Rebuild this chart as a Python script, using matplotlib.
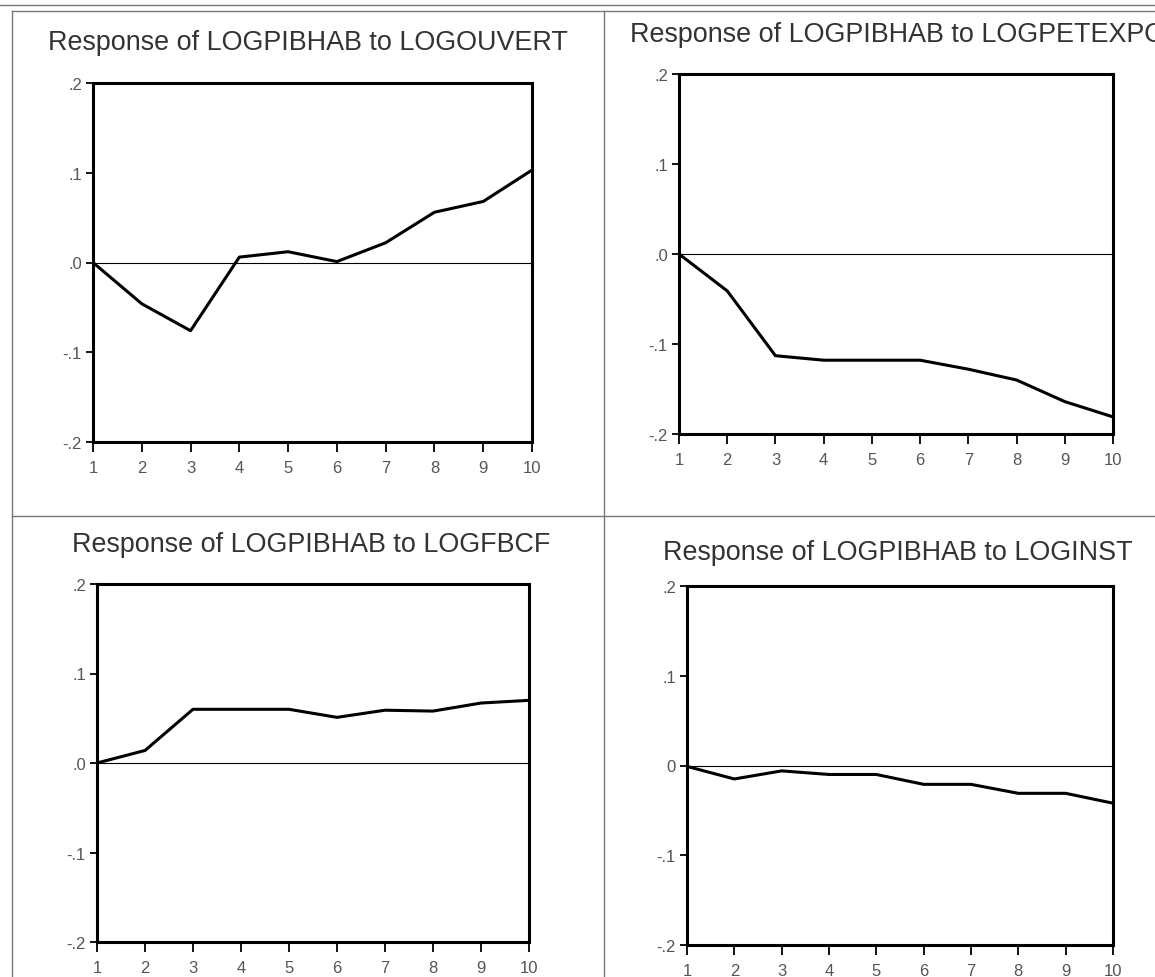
import matplotlib
matplotlib.use("Agg")
import matplotlib.pyplot as plt
from matplotlib.lines import Line2D

plt.rcParams['font.family'] = ['Liberation Sans', 'DejaVu Sans']

# Horizontes de la respuesta impulso
periods = [1, 2, 3, 4, 5, 6, 7, 8, 9, 10]

resp_ouvert = [0.0, -0.046, -0.076, 0.006, 0.012, 0.001, 0.022, 0.056, 0.068, 0.103]
resp_petexpo = [0.0, -0.041, -0.113, -0.118, -0.118, -0.118, -0.128, -0.140, -0.164, -0.181]
resp_fbcf = [0.0, 0.014, 0.060, 0.060, 0.060, 0.051, 0.059, 0.058, 0.067, 0.070]
resp_inst = [-0.001, -0.015, -0.006, -0.010, -0.010, -0.021, -0.021, -0.031, -0.031, -0.042]

titles = ["Response of LOGPIBHAB to LOGOUVERT",
          "Response of LOGPIBHAB to LOGPETEXPO",
          "Response of LOGPIBHAB to LOGFBCF",
          "Response of LOGPIBHAB to LOGINST"]

ytick_vals = [-0.2, -0.1, 0.0, 0.1, 0.2]
ytick_labels = ["-.2", "-.1", ".0", ".1", ".2"]
ytick_labels_inst = ["-.2", "-.1", "0", ".1", ".2"]

W, H = 1155, 978
fig = plt.figure(figsize=(W / 100, H / 100), dpi=100)

# posiciones en pixeles: (izq, der, arriba, abajo)
boxes = [(93, 532, 84, 443), (679, 1113, 75, 435),
         (97, 529, 585, 943), (687, 1113, 587, 946)]
# posicion de los titulos (x, y, alineacion)
title_pos = [(308, 43, "center"), (630, 35, "left"),
             (311, 545, "center"), (898, 553, "center")]

series = [resp_ouvert, resp_petexpo, resp_fbcf, resp_inst]
ylabs = [ytick_labels, ytick_labels, ytick_labels, ytick_labels_inst]

txt_col = "#555555"

for i in range(4):
    l, r, t, b = boxes[i]
    ax = fig.add_axes([l / W, 1 - b / H, (r - l) / W, (b - t) / H])
    ax.plot(periods, series[i], color="black", linewidth=2.2)
    ax.axhline(0, color="black", linewidth=0.8)
    ax.set_xlim(1, 10)
    ax.set_ylim(-0.2, 0.2)
    ax.set_xticks(periods)
    ax.set_xticklabels([str(p) for p in periods])
    ax.set_yticks(ytick_vals)
    ax.set_yticklabels(ylabs[i])
    for s in ax.spines.values():
        s.set_linewidth(2.2)
    ax.tick_params(axis="x", direction="out", length=7, width=1.3,
                   labelsize=12, labelcolor=txt_col, pad=6)
    ax.tick_params(axis="y", direction="out", length=5, width=1.3,
                   labelsize=12, labelcolor=txt_col, pad=3)
    ax.tick_params(top=False, right=False)
    tx, ty, ha = title_pos[i]
    fig.text(tx / W, 1 - ty / H, titles[i], ha=ha, va="center",
             fontsize=19.4, color="#333333")

# marcos del documento escaneado
frame_col = "#777777"
frame_lines = [((12, 12), (12, 978)), ((12, 1155), (12, 12)),
               ((604, 604), (12, 978)), ((12, 1155), (517, 517)),
               ((0, 1155), (6, 6))]
for xs, ys in frame_lines:
    fig.add_artist(Line2D([x / W for x in xs], [1 - y / H for y in ys],
                          color=frame_col, linewidth=1.0))

fig.savefig("out.png", dpi=100)
